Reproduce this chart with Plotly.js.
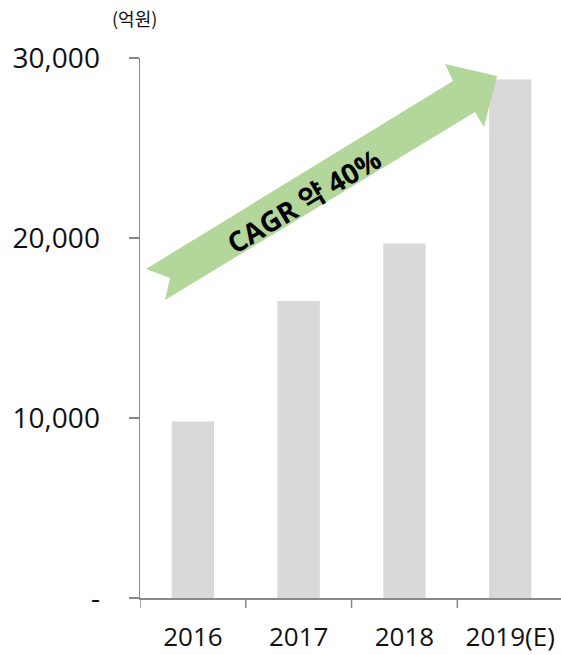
<!DOCTYPE html>
<html>
<head>
<meta charset="utf-8">
<script src="https://cdn.plot.ly/plotly-3.0.1.min.js"></script>
<style>html,body{margin:0;padding:0;background:#fff;}#chart{width:561px;height:655px;}</style>
</head>
<body>
<div id="chart"></div>
<script>
const categories = ['2016', '2017', '2018', '2019(E)'];
const values = [9800, 16500, 19700, 28800];
const yTickVals = [0, 10000, 20000, 30000];
const yTickText = ['-', '10,000', '20,000', '30,000'];
const unitLabel = '(억원)';
const arrowLabel = 'CAGR 약 40%';

const W = 561, H = 655;
const M = {l: 140, r: 0, t: 58, b: 57};
const PW = W - M.l - M.r, PH = H - M.t - M.b;
function px(x, y) { return [(x - M.l) / PW, (H - M.b - y) / PH]; }
function pathFrom(pts) {
  return pts.map((p, i) => { const q = px(p[0], p[1]); return (i ? 'L' : 'M') + q[0].toFixed(4) + ',' + q[1].toFixed(4); }).join(' ') + ' Z';
}
const arrowPts = [[146,269],[453,81],[445,64],[497,76],[484,127],[475,112],[165,300],[170,278]];
const font = '"Open Sans", "Noto Sans CJK KR", sans-serif';
const krFont = '"Noto Sans CJK KR", "Open Sans", sans-serif';
const axisColor = '#898989';

const trace = {
  type: 'bar', x: [0,1,2,3], y: values,
  marker: {color: '#d9d9d9', line: {width: 0}},
  width: 0.4, hoverinfo: 'none'
};

const txtPos = px(303, 201);
const unitPos = px(134, 18);

const layout = {
  width: W, height: H,
  margin: M,
  paper_bgcolor: '#fff', plot_bgcolor: '#fff',
  showlegend: false,
  font: {family: font, color: '#000'},
  xaxis: {
    type: 'linear', range: [-0.5, 3.48],
    tickvals: [0,1,2,3], ticktext: categories,
    ticks: '', showline: true, linecolor: axisColor, linewidth: 1.5,
    showgrid: false, zeroline: false,
    tickfont: {size: 26, family: font, color: '#111'},
    ticklabelstandoff: 15, fixedrange: true
  },
  yaxis: {
    range: [0, 30000], tickvals: yTickVals, ticktext: yTickText,
    ticks: 'outside', ticklen: 10, tickwidth: 1.5, tickcolor: axisColor,
    showline: true, linecolor: axisColor, linewidth: 1.5,
    showgrid: false, zeroline: false,
    tickfont: {size: 28, family: font, color: '#111'},
    ticklabelstandoff: 23, fixedrange: true
  },
  shapes: [
    {type: 'path', xref: 'paper', yref: 'paper', path: pathFrom(arrowPts),
     fillcolor: '#b3d69b', line: {width: 0}, layer: 'above'}
  ].concat([-0.5, 0.5, 1.5, 2.5, 3.5].map(b => ({
    type: 'line', xref: 'x', yref: 'paper', x0: b, x1: b, y0: 0, y1: -10 / PH,
    line: {color: axisColor, width: 1.5}
  }))),
  annotations: [
    {xref: 'paper', yref: 'paper', x: txtPos[0], y: txtPos[1], text: '<b>' + arrowLabel + '</b>',
     showarrow: false, textangle: -31, xanchor: 'center', yanchor: 'middle',
     font: {size: 28, family: font, color: '#000'}},
    {xref: 'paper', yref: 'paper', x: unitPos[0], y: unitPos[1], text: unitLabel,
     showarrow: false, xanchor: 'center', yanchor: 'middle',
     font: {size: 18, family: krFont, color: '#111'}}
  ]
};

Plotly.newPlot('chart', [trace], layout, {displayModeBar: false, staticPlot: true});
</script>
</body>
</html>
